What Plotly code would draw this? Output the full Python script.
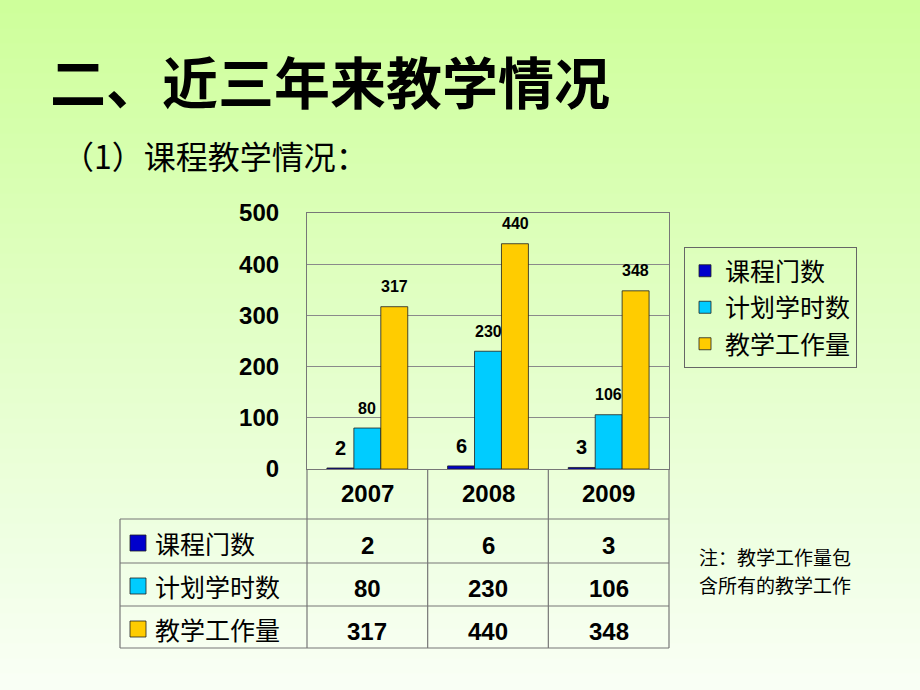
import plotly.graph_objects as go

years = ["2007", "2008", "2009"]
series_names = ["课程门数", "计划学时数", "教学工作量"]
course_counts = [2, 6, 3]
planned_hours = [80, 230, 106]
teaching_load = [317, 440, 348]
series_values = [course_counts, planned_hours, teaching_load]
series_colors = ["#0000cc", "#00ccff", "#ffcc00"]
y_ticks = [0, 100, 200, 300, 400, 500]

title_text = "二、近三年来教学情况"
subtitle_text = "（1）课程教学情况："
note_lines = ["注：教学工作量包", "含所有的教学工作"]

W, H = 920, 690
def px(x):
    return x / W
def py(y):
    return 1 - y / H

CJK = "Noto Sans CJK SC"
NUM = "Arial, Liberation Sans, sans-serif"

fig = go.Figure()
for i, (name, vals, col) in enumerate(zip(series_names, series_values, series_colors)):
    fig.add_trace(go.Bar(
        x=years, y=vals, name=name, legendgroup=f"g{i}",
        marker=dict(color=col, line=dict(color="#202020", width=0.8)),
        hoverinfo="skip",
    ))

shapes = []
# gradient background
N = 46
top = (206, 255, 155)
mid = (240, 255, 228)
bot = (250, 255, 246)
for k in range(N):
    t = (k + 0.5) / N
    if t < 0.8:
        u = t / 0.8
        c = tuple(int(top[j] + (mid[j] - top[j]) * u) for j in range(3))
    else:
        u = (t - 0.8) / 0.2
        c = tuple(int(mid[j] + (bot[j] - mid[j]) * u) for j in range(3))
    shapes.append(dict(type="rect", xref="paper", yref="paper", x0=0, x1=1,
                       y0=max(0, 1 - (k + 1) / N - 0.002), y1=min(1, 1 - k / N + 0.002),
                       fillcolor=f"rgb{c}", line=dict(width=0), layer="below"))

LC = "#777777"
LW = 1.2
# table horizontal lines
for yy in [519, 563, 606, 648]:
    shapes.append(dict(type="line", xref="paper", yref="paper", x0=px(120), x1=px(669),
                       y0=py(yy), y1=py(yy), line=dict(color=LC, width=LW)))
# table vertical lines
shapes.append(dict(type="line", xref="paper", yref="paper", x0=px(120), x1=px(120),
                   y0=py(519), y1=py(648), line=dict(color=LC, width=LW)))
for xx in [307, 669]:
    shapes.append(dict(type="line", xref="paper", yref="paper", x0=px(xx), x1=px(xx),
                       y0=py(469), y1=py(648), line=dict(color=LC, width=LW)))
for i in range(len(years) - 1):
    shapes.append(dict(type="line", xref="x", yref="paper", x0=i + 0.5, x1=i + 0.5,
                       y0=py(469), y1=py(648), line=dict(color=LC, width=LW)))

annotations = []
annotations.append(dict(text=f"<b>{title_text}</b>", xref="paper", yref="paper",
                        x=px(48), y=py(80), xanchor="left", yanchor="middle",
                        showarrow=False, font=dict(family=CJK, size=56, color="black")))
annotations.append(dict(text=subtitle_text, xref="paper", yref="paper",
                        x=px(60), y=py(155), xanchor="left", yanchor="middle",
                        showarrow=False, font=dict(family=CJK, size=32, color="black")))
# note
for j, line in enumerate(note_lines):
    annotations.append(dict(text=line, xref="paper", yref="paper",
                            x=px(697), y=py(556 + 28 * j), xanchor="left", yanchor="middle",
                            showarrow=False, font=dict(family=CJK, size=19, color="black")))

# bar value labels (category axis: annotation x = category index)
shifts = [-27, 0, 27]
for s, vals in enumerate(series_values):
    for i, v in enumerate(vals):
        annotations.append(dict(text=f"<b>{v}</b>", x=i, y=v, xref="x", yref="y",
                                xshift=shifts[s], yshift=20, yanchor="middle",
                                showarrow=False,
                                font=dict(family=NUM, size=20 if v < 10 else 16, color="black")))

# table: year header
for i, yr in enumerate(years):
    annotations.append(dict(text=f"<b>{yr}</b>", x=i, xref="x", yref="paper", y=py(493),
                            yanchor="middle", showarrow=False,
                            font=dict(family=NUM, size=24, color="black")))
# table rows
row_y = [543, 586, 629]
for s, (name, vals, col) in enumerate(zip(series_names, series_values, series_colors)):
    yc = row_y[s]
    shapes.append(dict(type="rect", xref="paper", yref="paper",
                       x0=px(130), x1=px(146), y0=py(yc + 8), y1=py(yc - 8),
                       fillcolor=col, line=dict(color="#202020", width=0.8)))
    annotations.append(dict(text=name, xref="paper", yref="paper", x=px(153), y=py(yc),
                            xanchor="left", yanchor="middle", showarrow=False,
                            font=dict(family=CJK, size=25, color="black")))
    for i, v in enumerate(vals):
        annotations.append(dict(text=f"<b>{v}</b>", x=i, xref="x", yref="paper",
                                y=py(yc + 2), yanchor="middle", showarrow=False,
                                font=dict(family=NUM, size=24, color="black")))

fig.update_layout(
    width=W, height=H,
    margin=dict(l=0, r=0, t=0, b=0, pad=0, autoexpand=False),
    paper_bgcolor="rgb(250,255,246)",
    plot_bgcolor="rgba(0,0,0,0)",
    barmode="group", bargap=0.33, bargroupgap=0,
    showlegend=True,
    legend=dict(x=px(684), y=py(247), xanchor="left", yanchor="top",
                bgcolor="rgba(0,0,0,0)", bordercolor="#666666", borderwidth=1,
                font=dict(family=CJK, size=25, color="black"),
                tracegroupgap=1, itemclick=False, itemdoubleclick=False),
    xaxis=dict(domain=[px(307), px(669)], type="category", range=[-0.5, len(years) - 0.5],
               showticklabels=False, automargin=False,
               showline=True, mirror=True, linecolor=LC, linewidth=LW,
               showgrid=False, ticks=""),
    yaxis=dict(domain=[py(469), py(213)], range=[0, 500], tickvals=y_ticks,
               showgrid=True, gridcolor="#8a8a8a", gridwidth=1, automargin=False,
               zeroline=True, zerolinecolor="#555555", zerolinewidth=1.2,
               showline=True, mirror=True, linecolor=LC, linewidth=LW,
               ticks="", ticklabelstandoff=22,
               tickfont=dict(family=NUM, size=24, color="black", weight="bold")),
    shapes=shapes,
    annotations=annotations,
)

fig.write_html("out.html")
